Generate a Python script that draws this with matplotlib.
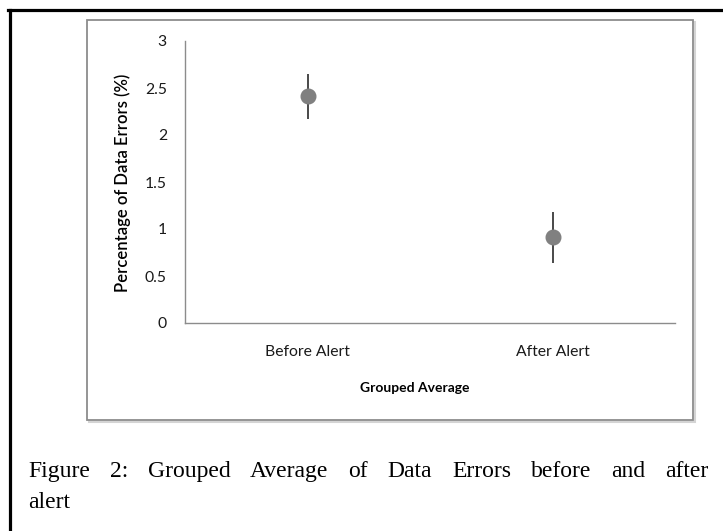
import matplotlib
matplotlib.use("Agg")
import matplotlib.pyplot as plt
from matplotlib.patches import Rectangle
from matplotlib.lines import Line2D

# data
categories = ["Before Alert", "After Alert"]
means = [2.41, 0.91]
errors = [0.24, 0.27]
yticks = [0, 0.5, 1, 1.5, 2, 2.5, 3]
ytick_labels = ["0", "0.5", "1", "1.5", "2", "2.5", "3"]

W, H = 723, 531
fig = plt.figure(figsize=(W / 100, H / 100), dpi=100)

def fx(px):
    return px / W

def fy(py):
    return 1 - py / H

# outer black frame (top + left only)
fig.add_artist(Line2D([fx(9.5), fx(9.5)], [fy(9.5), 0], color="black", lw=2.3,
                      transform=fig.transFigure, zorder=-3))
fig.add_artist(Line2D([fx(8), 1], [fy(9.5), fy(9.5)], color="black", lw=2.3,
                      transform=fig.transFigure, zorder=-3))

# gray chart box with light shadow
fig.add_artist(Rectangle((fx(89), fy(422)), fx(606), 400 / H, transform=fig.transFigure,
                         facecolor="none", edgecolor="#d4d4d4", lw=1.5, zorder=-3))
fig.add_artist(Rectangle((fx(87), fy(420)), fx(606), 400 / H, transform=fig.transFigure,
                         facecolor="white", edgecolor="#8c8c8c", lw=1.3, zorder=-2))

ax = fig.add_axes([fx(185), fy(323), fx(490), 282 / H], zorder=1)
ax.set_facecolor("none")
x = list(range(len(categories)))
ax.errorbar(x, means, yerr=errors, fmt="o", color="#808080", markersize=10.5,
            ecolor="#3a3a3a", elinewidth=1.3, capsize=0, zorder=3)

ax.set_xlim(-0.5, 1.5)
ax.set_ylim(0, 3)
ax.set_xticks(x)
ax.set_xticklabels(categories)
ax.set_yticks(yticks)
ax.set_yticklabels(ytick_labels)
for s in ["top", "right"]:
    ax.spines[s].set_visible(False)
for s in ["left", "bottom"]:
    ax.spines[s].set_color("#8c8c8c")
    ax.spines[s].set_linewidth(1.0)
ax.tick_params(axis="y", length=0, pad=13, labelsize=11.3, labelcolor="#1a1a1a")
ax.tick_params(axis="x", length=0, pad=16, labelsize=11.3, labelcolor="#1a1a1a")
for lab in ax.get_xticklabels() + ax.get_yticklabels():
    lab.set_family("Lato")

fig.text(fx(415), fy(388), "Grouped Average", ha="center", va="center",
         family="Lato", fontweight="bold", fontsize=10)
fig.text(fx(123), fy(183), "Percentage of Data Errors (%)", ha="center", va="center",
         rotation=90, family="Lato", fontweight="semibold", fontsize=12)

# justified caption
words = "Figure 2: Grouped Average of Data Errors before and after".split()
cap_left, cap_right = 28, 708
cap_size = 17
fig.canvas.draw()
renderer = fig.canvas.get_renderer()
texts = []
widths = []
for w in words:
    t = fig.text(0, fy(477), w, ha="left", va="baseline", family="Liberation Serif",
                 fontsize=cap_size)
    widths.append(t.get_window_extent(renderer).width)
    texts.append(t)
gap = (cap_right - cap_left - sum(widths)) / (len(words) - 1)
pos = cap_left
for t, wd in zip(texts, widths):
    t.set_x(fx(pos))
    pos += wd + gap
fig.text(fx(cap_left), fy(508), "alert", ha="left", va="baseline",
         family="Liberation Serif", fontsize=cap_size)

fig.savefig("out.png", dpi=100)
